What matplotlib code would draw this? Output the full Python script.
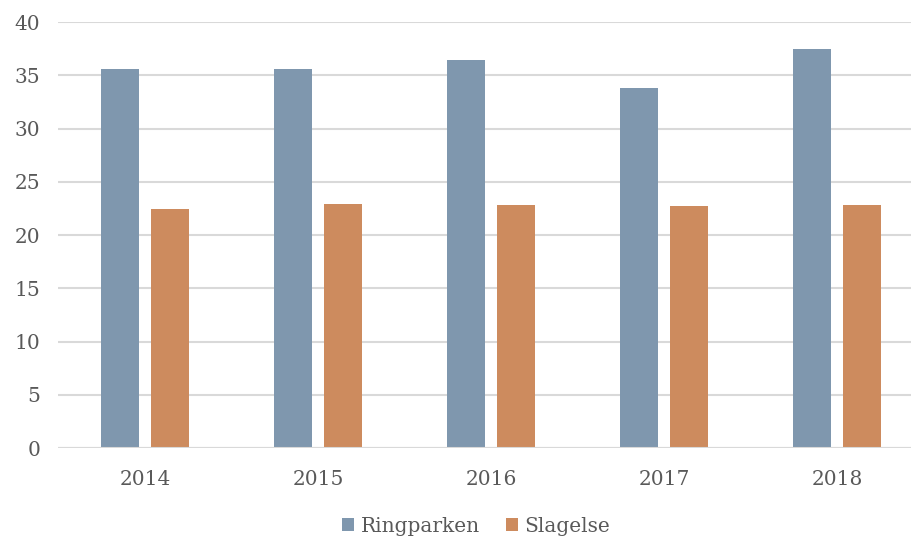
import numpy as np
import matplotlib.pyplot as plt

years = ["2014", "2015", "2016", "2017", "2018"]
ringparken = [35.6, 35.55, 36.45, 33.8, 37.45]
slagelse = [22.45, 22.95, 22.85, 22.7, 22.8]

plt.rcParams['font.family'] = ['DejaVu Serif']
txt = "#595959"

fig = plt.figure(figsize=(9.12, 5.42), dpi=100)
ax = fig.add_axes([0.064, 0.1734, 0.9485, 0.786])

x = np.arange(len(years))
w = 0.22
ax.bar(x - 0.143, ringparken, w, color="#7f97ae", label="Ringparken", zorder=3)
ax.bar(x + 0.143, slagelse, w, color="#cd8b5e", label="Slagelse", zorder=3)

ax.set_xlim(-0.5, 4.5)
ax.set_ylim(0, 40)
ax.set_yticks(range(0, 41, 5))
ax.set_xticks(x)
ax.set_xticklabels(years)
ax.yaxis.grid(True, color="#d9d9d9", linewidth=1.5, zorder=0)
for s in ax.spines.values():
    s.set_visible(False)
ax.axhline(0, color="#d9d9d9", linewidth=1.5, zorder=4)
ax.tick_params(length=0, labelsize=14.5, colors=txt)
ax.tick_params(axis='x', pad=16)
ax.tick_params(axis='y', pad=13)

leg = fig.legend(loc="lower center", bbox_to_anchor=(0.522, -0.022), ncol=2, frameon=False,
                 fontsize=14.5, handlelength=0.6, handleheight=0.6, handletextpad=0.3,
                 columnspacing=1.3)
for t in leg.get_texts():
    t.set_color(txt)

fig.savefig("out.png", dpi=100)
